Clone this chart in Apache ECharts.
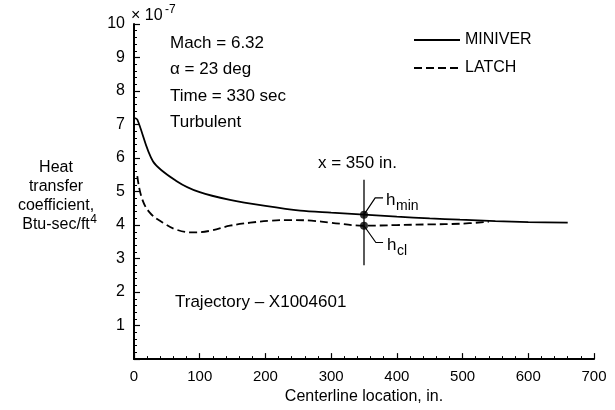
<!DOCTYPE html>
<html><head><meta charset="utf-8">
<script src="https://cdn.jsdelivr.net/npm/echarts@6/dist/echarts.min.js"></script>
<style>html,body{margin:0;padding:0;background:#fff}#c{width:615px;height:410px}</style>
</head><body><div id="c"></div>
<script>
// ---- data ----
const xMin = 0, xMax = 700, xStep = 100;
const yMin = 0, yMax = 10, yStep = 1;
const miniverX = [0, 5, 29, 65, 100, 146, 200, 253, 300, 350, 400, 450, 496, 550, 600, 660];
const miniverY = [7.2, 7.15, 5.9, 5.31, 4.98, 4.75, 4.57, 4.43, 4.37, 4.31, 4.25, 4.2, 4.16, 4.12, 4.09, 4.07];
const latchX = [5, 12, 24, 44, 65, 90, 116, 146, 177, 207, 240, 270, 300, 350, 400, 450, 496, 540];
const latchY = [5.46, 4.8, 4.37, 4.07, 3.86, 3.78, 3.83, 3.98, 4.07, 4.13, 4.15, 4.13, 4.07, 3.98, 4.0, 4.02, 4.04, 4.1];
const stationX = 350;
const stationY = [4.31, 3.98];          // h_min, h_cl
const cutLineY = [2.8, 5.35];
const hminLeaderX = [350, 367, 379], hminLeaderY = [4.31, 4.81, 4.81];
const hclLeaderX = [350, 368, 379],  hclLeaderY = [3.98, 3.48, 3.48];
const seriesNames = ['MINIVER', 'LATCH'];
const notes = ['Mach = 6.32', 'α = 23 deg', 'Time = 330 sec', 'Turbulent'];
const yNameLines = ['Heat', 'transfer', 'coefficient,', 'Btu-sec/ft'];

const zip = (a, b) => a.map((v, i) => [v, b[i]]);
const F = 'Liberation Sans, Arial, Helvetica, sans-serif';
const black = '#000';

const measure = (s, size) => {
  const c = document.createElement('canvas').getContext('2d');
  c.font = size + 'px ' + F;
  return c.measureText(s).width;
};

const chart = echarts.init(document.getElementById('c'), null, {renderer: 'canvas'});
const txt = (x, y, s, size, align) => ({
  type: 'text', x: x, y: y,
  style: {text: s, font: size + 'px ' + F, fill: black, textAlign: align || 'left', textVerticalAlign: 'middle'}
});

const graphics = [];
notes.forEach((n, i) => graphics.push(txt(170, 43 + i * 26.5, n, 17)));
graphics.push(txt(175, 302, 'Trajectory – X1004601', 17));
graphics.push(txt(318, 163, 'x = 350 in.', 17));
graphics.push(txt(386, 200, 'h', 17));
graphics.push(txt(396, 206, 'min', 14));
graphics.push(txt(387, 245, 'h', 17));
graphics.push(txt(397, 251, 'cl', 14));
graphics.push(txt(131, 16, '× 10', 16));
graphics.push(txt(165, 10, '-7', 12));
// y axis name
yNameLines.forEach((s, i) => graphics.push(txt(56, 168 + i * 19, s, 16, 'center')));
const lastW = measure(yNameLines[3], 16);
graphics.push(txt(56 + lastW / 2 + 0.5, 220, '4', 12));

chart.setOption({
  animation: false,
  backgroundColor: '#fff',
  grid: {left: 134, right: 21, top: 24, bottom: 47, containLabel: false},
  legend: {
    data: seriesNames, orient: 'vertical', left: 408, top: 27,
    itemWidth: 46, itemHeight: 12, itemGap: 12,
    itemStyle: {opacity: 0},
    textStyle: {fontFamily: F, fontSize: 16, color: black}
  },
  xAxis: {
    type: 'value', min: xMin, max: xMax, interval: xStep,
    name: 'Centerline location, in.', nameLocation: 'middle', nameGap: 26,
    nameTextStyle: {fontFamily: F, fontSize: 16, color: black},
    axisLine: {show: true, lineStyle: {color: black, width: 2}},
    axisTick: {show: true, inside: true, length: 6, lineStyle: {color: black, width: 1.2}},
    minorTick: {show: true, splitNumber: 5, length: 3, lineStyle: {color: black, width: 1}},
    axisLabel: {fontFamily: F, fontSize: 15, color: black, margin: 10},
    splitLine: {show: false}
  },
  yAxis: {
    type: 'value', min: yMin, max: yMax, interval: yStep,
    axisLine: {show: true, lineStyle: {color: black, width: 2}},
    axisTick: {show: true, inside: true, length: 6, lineStyle: {color: black, width: 1.2}},
    minorTick: {show: true, splitNumber: 5, length: 3, lineStyle: {color: black, width: 1}},
    axisLabel: {fontFamily: F, fontSize: 16, color: black, margin: 9,
      formatter: v => (v === 0 ? '' : String(v))},
    splitLine: {show: false}
  },
  series: [
    {name: seriesNames[0], type: 'line', data: zip(miniverX, miniverY), symbol: 'none', smooth: 0.3,
     lineStyle: {color: black, width: 1.8}, itemStyle: {color: black}},
    {name: seriesNames[1], type: 'line', data: zip(latchX, latchY), symbol: 'none', smooth: 0.4,
     lineStyle: {color: black, width: 1.8, type: [8, 4]}, itemStyle: {color: black}},
    {name: 'cut', type: 'line', data: cutLineY.map(v => [stationX, v]), symbol: 'none',
     lineStyle: {color: black, width: 1.3}},
    {name: 'leader1', type: 'line', data: zip(hminLeaderX, hminLeaderY), symbol: 'none',
     lineStyle: {color: black, width: 1.2}},
    {name: 'leader2', type: 'line', data: zip(hclLeaderX, hclLeaderY), symbol: 'none',
     lineStyle: {color: black, width: 1.2}},
    {name: 'station', type: 'scatter', data: stationY.map(v => [stationX, v]), symbol: 'circle', symbolSize: 8,
     itemStyle: {color: black}, z: 5}
  ],
  graphic: graphics
});
</script></body></html>
